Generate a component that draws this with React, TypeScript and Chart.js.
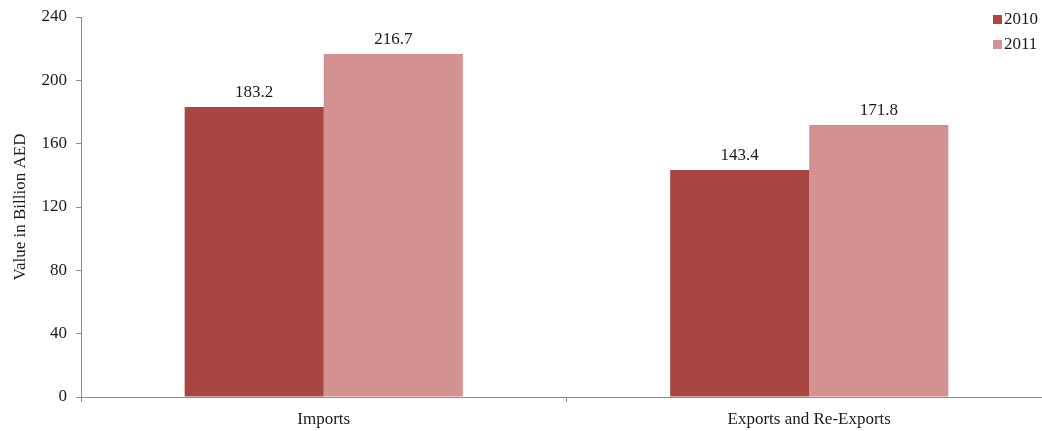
import React, { useEffect, useRef } from "react";
import { Chart, registerables } from "chart.js";

Chart.register(...registerables);

const categories = ["Imports", "Exports and Re-Exports"];
const values2010 = [183.2, 143.4];
const values2011 = [216.7, 171.8];
const seriesNames = ["2010", "2011"];
const yTicks = [0, 40, 80, 120, 160, 200, 240];

const SERIF = "'Liberation Serif', 'Times New Roman', serif";
const AXIS_COLOR = "#8c8c8c";

const valueLabels = {
  id: "valueLabels",
  afterDatasetsDraw(chart: any) {
    const ctx = chart.ctx;
    ctx.save();
    ctx.font = `17px ${SERIF}`;
    ctx.fillStyle = "#1a1a1a";
    ctx.textAlign = "center";
    ctx.textBaseline = "bottom";
    chart.data.datasets.forEach((ds: any, i: number) => {
      const meta = chart.getDatasetMeta(i);
      meta.data.forEach((bar: any, j: number) => {
        ctx.fillText(String(ds.data[j]), bar.x, bar.y - 6);
      });
    });
    ctx.restore();
  },
};

const sideLegend = {
  id: "sideLegend",
  afterDraw(chart: any) {
    const ctx = chart.ctx;
    ctx.save();
    ctx.font = `17px ${SERIF}`;
    ctx.textBaseline = "middle";
    ctx.textAlign = "left";
    chart.data.datasets.forEach((ds: any, i: number) => {
      const y = 20 + i * 25;
      ctx.fillStyle = ds.backgroundColor;
      ctx.fillRect(993, y - 5, 9, 9);
      ctx.fillStyle = "#1a1a1a";
      ctx.fillText(ds.label, 1004, y);
    });
    ctx.restore();
  },
};

export default function App() {
  const ref = useRef<HTMLCanvasElement | null>(null);
  useEffect(() => {
    if (!ref.current) return;
    const chart = new Chart(ref.current, {
      type: "bar",
      data: {
        labels: categories,
        datasets: [
          {
            label: seriesNames[0],
            data: values2010,
            backgroundColor: "#A94644",
            categoryPercentage: 0.573,
            barPercentage: 1.0,
          },
          {
            label: seriesNames[1],
            data: values2011,
            backgroundColor: "#D39291",
            categoryPercentage: 0.573,
            barPercentage: 1.0,
          },
        ],
      },
      options: {
        responsive: false,
        animation: false,
        layout: { padding: { top: 17, right: 0, bottom: 0, left: 0 } },
        plugins: {
          legend: { display: false },
          tooltip: { enabled: false },
        },
        scales: {
          x: {
            grid: {
              display: true,
              drawOnChartArea: false,
              offset: true,
              tickLength: 5,
              color: AXIS_COLOR,
            },
            border: { display: true, color: AXIS_COLOR, width: 1 },
            ticks: {
              color: "#1a1a1a",
              font: { family: SERIF, size: 17 },
              padding: 7,
            },
            afterFit(scale: any) {
              scale.height = 34;
              scale.paddingLeft = 0;
              scale.paddingRight = 0;
            },
          },
          y: {
            min: 0,
            max: 240,
            afterBuildTicks(scale: any) {
              scale.ticks = yTicks.map((v) => ({ value: v }));
            },
            grid: {
              display: true,
              drawOnChartArea: false,
              tickLength: 5,
              color: AXIS_COLOR,
            },
            border: { display: true, color: AXIS_COLOR, width: 1 },
            ticks: {
              color: "#1a1a1a",
              font: { family: SERIF, size: 17 },
              padding: 9,
            },
            title: {
              display: true,
              text: "Value in Billion AED",
              color: "#1a1a1a",
              font: { family: SERIF, size: 17 },
              padding: { top: 10, bottom: 4 },
            },
            afterFit(scale: any) {
              scale.width = 81;
              scale.paddingTop = 0;
              scale.paddingBottom = 0;
            },
          },
        },
      },
      plugins: [valueLabels, sideLegend],
    });
    return () => chart.destroy();
  }, []);

  return (
    <div
      style={{
        position: "fixed",
        left: 0,
        top: 0,
        width: 1042,
        height: 431,
        overflow: "hidden",
        background: "#fff",
      }}
    >
      <canvas ref={ref} width={1052} height={431} style={{ display: "block" }} />
    </div>
  );
}
